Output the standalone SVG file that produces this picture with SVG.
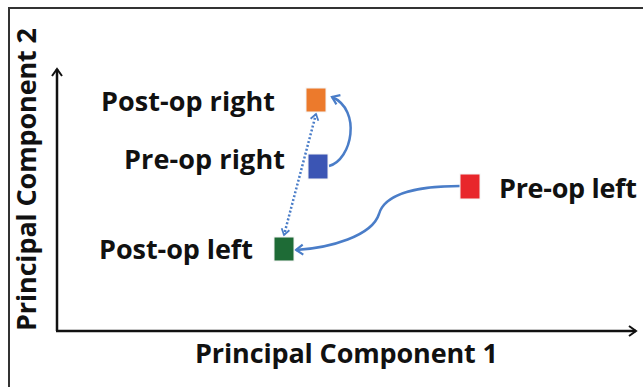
<svg xmlns="http://www.w3.org/2000/svg" width="643" height="387" viewBox="0 0 643 387">
<style>
.lbl{font-family:"Open Sans","Liberation Sans",sans-serif;font-weight:bold;font-size:27px;fill:#111}
.ax{stroke:#111;stroke-width:2.5;fill:none}
.con{stroke:#4A7DC8;stroke-width:2.5;fill:none}
.sq{stroke:#f4f4f4;stroke-width:1}
</style>
<defs>
<marker id="axhead" markerUnits="userSpaceOnUse" markerWidth="14" markerHeight="14" refX="9" refY="6" orient="auto">
<path d="M2,1 L9,6 L2,11" fill="none" stroke="#111" stroke-width="2"/>
</marker>
<marker id="bhead" markerUnits="userSpaceOnUse" markerWidth="14" markerHeight="14" refX="9" refY="6" orient="auto-start-reverse">
<path d="M2,1 L9,6 L2,11" fill="none" stroke="#4A7DC8" stroke-width="2.2"/>
</marker>
<marker id="dhead" markerUnits="userSpaceOnUse" markerWidth="14" markerHeight="14" refX="8" refY="5" orient="auto-start-reverse">
<path d="M2,1 L8,5 L2,9" fill="none" stroke="#4A7DC8" stroke-width="1.8"/>
</marker>
</defs>
<rect width="643" height="387" fill="#fff"/>
<path d="M9,387 V8 H643" fill="none" stroke="#333" stroke-width="2"/>
<g id="axes">
<path class="ax" d="M57,331 V69" marker-end="url(#axhead)"/>
<path class="ax" d="M56,331 H636" marker-end="url(#axhead)"/>
<text class="lbl" x="195" y="363" textLength="303">Principal Component 1</text>
<text class="lbl" transform="translate(36,331) rotate(-90)" x="0" y="0" textLength="303">Principal Component 2</text>
</g>
<g id="connectors">
<path class="con" d="M329,166 C352,160 362,110 332,97" marker-end="url(#bhead)"/>
<path class="con" d="M460,186 C420,186 385,193 379,214 C372,236 330,248 296,250" marker-end="url(#bhead)"/>
<path class="con" d="M316,114 L284,235" stroke-dasharray="2,2" stroke-width="2.2" marker-start="url(#dhead)" marker-end="url(#dhead)"/>
</g>
<g id="post-op-right">
<rect class="sq" x="306" y="88" width="20" height="24" fill="#EC7A2C"/>
<text class="lbl" x="101" y="111" textLength="174">Post-op right</text>
</g>
<g id="pre-op-right">
<rect class="sq" x="308" y="154" width="20" height="25" fill="#3B55B4"/>
<text class="lbl" x="124" y="169" textLength="161">Pre-op right</text>
</g>
<g id="pre-op-left">
<rect class="sq" x="460" y="174" width="20" height="25" fill="#E8262B"/>
<text class="lbl" x="499" y="198" textLength="138">Pre-op left</text>
</g>
<g id="post-op-left">
<rect class="sq" x="274" y="237" width="20" height="24" fill="#1E6B36"/>
<text class="lbl" x="99" y="259" textLength="154">Post-op left</text>
</g>
</svg>
